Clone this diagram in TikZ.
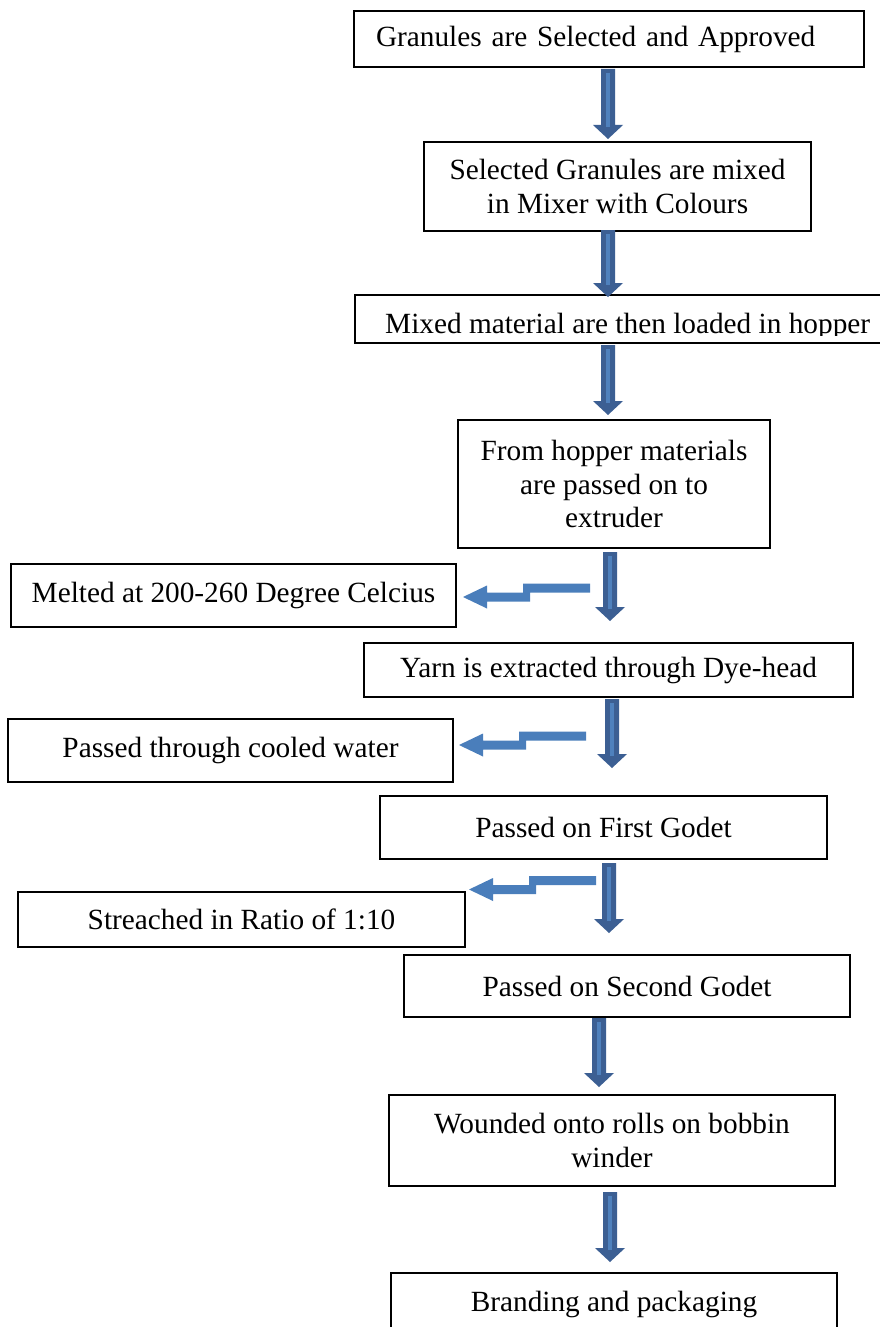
\documentclass[tikz,border=0pt]{standalone}
\usepackage{fontspec}
\setmainfont{Liberation Serif}
\usetikzlibrary{calc}
\definecolor{arrdark}{HTML}{3C5F93}
\definecolor{arrlight}{HTML}{4F81BD}
\definecolor{sideblue}{HTML}{4A7EBB}
\tikzset{
  box/.style={draw=black, line width=1.5pt, rectangle, inner sep=0pt, align=center,
    font=\fontsize{29.3}{33.5}\selectfont},
  boxtext/.style={inner sep=0pt, font=\fontsize{29.3}{33.5}\selectfont},
  dnfill/.style={fill=arrdark},
  dnstripe/.style={draw=arrlight, line width=4pt},
  sidefill/.style={fill=sideblue},
}
% block arrow pointing down, from top coordinate #1 to tip coordinate #2
\newcommand\blockdown[2]{%
  \fill[dnfill] let \p1=(#1), \p2=(#2) in
    (\x1-7pt,\y1) -- (\x1+7pt,\y1) -- (\x1+7pt,\y2+14pt) -- (\x1+15pt,\y2+14pt)
    -- (\x1,\y2) -- (\x1-15pt,\y2+14pt) -- (\x1-7pt,\y2+14pt) -- cycle;
  \draw[dnstripe] let \p1=(#1), \p2=(#2) in (\x1,\y1-4pt) -- (\x1,\y2+12pt);
}
% stepped block arrow pointing left, starting at coordinate #1 (right end, upper bar centre)
\newcommand\blockleft[1]{%
  \fill[sidefill] let \p1=(#1) in
    (\x1,\y1+4.5pt) -- (\x1-67pt,\y1+4.5pt) -- (\x1-67pt,\y1-4.5pt)
    -- (\x1-103pt,\y1-4.5pt) -- (\x1-103pt,\y1+2.5pt) -- (\x1-127pt,\y1-9pt)
    -- (\x1-103pt,\y1-20.5pt) -- (\x1-103pt,\y1-13.5pt) -- (\x1-60pt,\y1-13.5pt)
    -- (\x1-60pt,\y1-4.5pt) -- (\x1,\y1-4.5pt) -- cycle;
}
\begin{document}
\begin{tikzpicture}[x=1pt,y=-1pt]
\clip (0,0) rectangle (880,1327);
\fill[white] (0,0) rectangle (880,1327);

% main column
\node[box, minimum width=510pt, minimum height=56pt, text width=466pt, align=left, inner xsep=22pt]
  (b1) at (609,39) {Granules are Selected and Approved};
\node[box, minimum width=387pt, minimum height=89pt] (b2) at (617.5,186.5)
  {Selected Granules are mixed\\in Mixer with Colours};
\node[box, minimum width=535pt, minimum height=48pt] (b3) at (622.5,319) {};
\begin{scope}
  \clip (356,296) rectangle (879,335.5);
  \node[boxtext, anchor=base west] (t3) at (385,333) {Mixed material are then loaded in hopper};
\end{scope}
\node[box, minimum width=312pt, minimum height=128pt] (b4) at (614,484)
  {From hopper materials\\are passed on to\\extruder};
\node[box, minimum width=489pt, minimum height=54pt] (b5) at (608.5,670)
  {Yarn is extracted through Dye-head};
\node[box, minimum width=447pt, minimum height=63pt] (b6) at (603.5,827.5)
  {Passed on First Godet};
\node[box, minimum width=446pt, minimum height=62pt] (b7) at (627,986)
  {Passed on Second Godet};
\node[box, minimum width=446pt, minimum height=91pt] (b8) at (612,1140.5)
  {Wounded onto rolls on bobbin\\winder};
\node[box, minimum width=446pt, minimum height=62pt] (b9) at (614,1304)
  {Branding and packaging};

% side boxes
\node[box, minimum width=445pt, minimum height=63pt] (s1) at (233.5,595.5)
  {Melted at 200-260 Degree Celcius};
\node[box, minimum width=445pt, minimum height=63pt] (s2) at (230.5,750.5)
  {Passed through cooled water};
\node[box, minimum width=447pt, minimum height=55pt] (s3) at (241.5,919.5)
  {Streached in Ratio of 1:10};

% down arrows
\coordinate (d1a) at (608,69);   \coordinate (d1b) at (608,139);
\coordinate (d2a) at (608,230);  \coordinate (d2b) at (608,297);
\coordinate (d3a) at (608,345);  \coordinate (d3b) at (608,415);
\coordinate (d4a) at (610,552);  \coordinate (d4b) at (610,621);
\coordinate (d5a) at (612,699);  \coordinate (d5b) at (612,768);
\coordinate (d6a) at (609,863);  \coordinate (d6b) at (609,933);
\coordinate (d7a) at (599,1018); \coordinate (d7b) at (599,1087);
\coordinate (d8a) at (610,1192); \coordinate (d8b) at (610,1262);
\blockdown{d1a}{d1b}
\blockdown{d2a}{d2b}
\blockdown{d3a}{d3b}
\blockdown{d4a}{d4b}
\blockdown{d5a}{d5b}
\blockdown{d6a}{d6b}
\blockdown{d7a}{d7b}
\blockdown{d8a}{d8b}

% side arrows
\coordinate (r1) at (590,588);
\coordinate (r2) at (586,736);
\coordinate (r3) at (596,880.5);
\blockleft{r1}
\blockleft{r2}
\blockleft{r3}
\end{tikzpicture}
\end{document}
